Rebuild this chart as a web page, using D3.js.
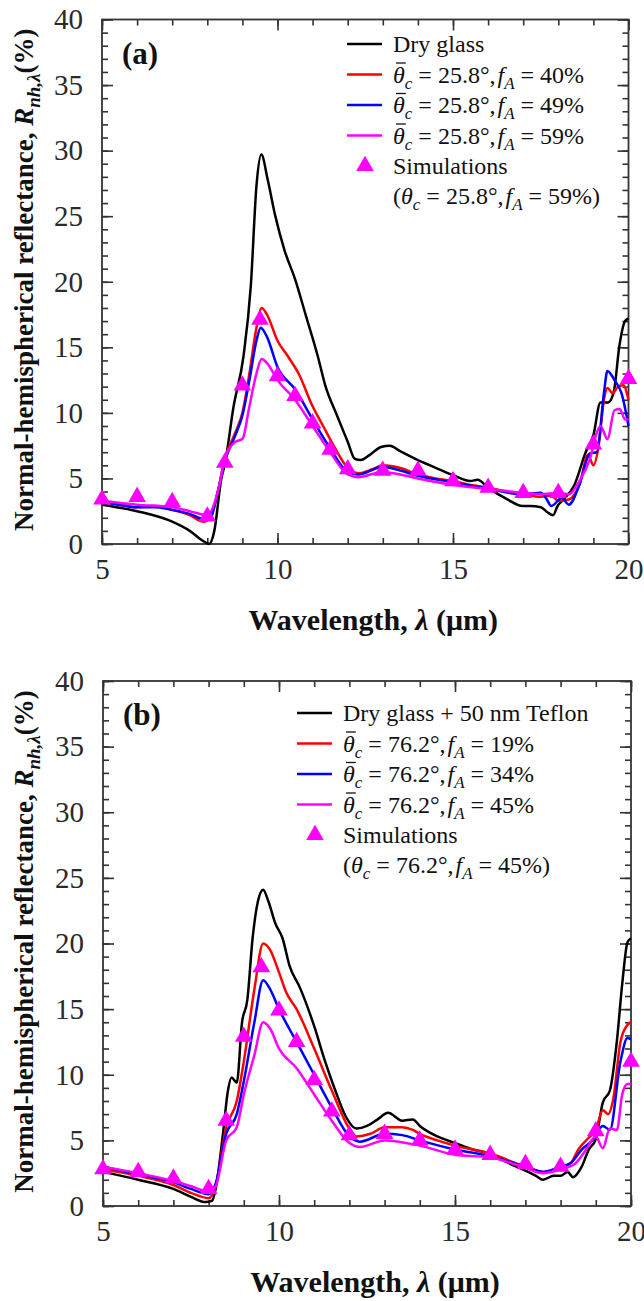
<!DOCTYPE html>
<html>
<head>
<meta charset="utf-8">
<script src="https://cdn.jsdelivr.net/npm/d3@7"></script>
<style>
  body { margin: 0; background: #fff; }
  svg { display: block; font-family: "Liberation Serif", "Times New Roman", serif; }
  svg text { font-family: "Liberation Serif", "Times New Roman", serif; }
</style>
</head>
<body>
<div id="chart"></div>
<script>
// ---- panel (a) data: wavelength (um), reflectance (%) ----
const dryA = [[5,3.0],[6,2.5],[7,1.7],[7.5,1.0],[7.9,0.2],[8.05,0.0],[8.2,1.0],[8.4,5.0],[8.5,6.1],[8.75,10.5],[9.03,14.3],[9.24,19.7],[9.4,27.3],[9.54,29.7],[9.72,27.8],[9.93,25.1],[10.2,22.4],[10.5,20.2],[10.8,17.5],[11.15,14.3],[11.36,12.1],[11.68,9.9],[12.0,7.8],[12.2,6.5],[12.37,6.4],[12.63,6.8],[12.95,7.4],[13.2,7.5],[13.48,7.1],[14.0,6.4],[14.43,5.9],[14.96,5.3],[15.5,4.8],[15.7,4.9],[16.0,4.3],[16.55,3.4],[16.98,2.9],[17.2,2.9],[17.5,2.8],[17.7,2.4],[17.85,2.2],[17.98,2.9],[18.15,3.4],[18.46,4.5],[18.78,7.0],[19.0,8.3],[19.2,10.8],[19.42,10.8],[19.58,11.6],[19.74,15.1],[19.9,17.0],[20,17.2]];
const redA = [[5,3.2],[5.5,3.0],[6,2.8],[6.5,2.9],[7,2.6],[7.5,2.2],[7.9,1.7],[8.1,2.0],[8.3,4.0],[8.5,6.5],[8.8,8.5],[9.0,10.0],[9.2,13.0],[9.4,16.5],[9.55,18.0],[9.7,17.5],[10.0,15.5],[10.3,14.3],[10.6,13.0],[11.0,10.5],[11.3,9.0],[11.6,7.5],[12.0,5.8],[12.3,5.4],[12.7,5.7],[13.0,6.0],[13.5,5.8],[14.0,5.3],[14.5,5.0],[15.0,4.8],[15.5,4.5],[16.0,4.3],[16.5,4.0],[17.0,3.8],[17.5,3.6],[17.8,3.7],[18.0,3.3],[18.3,3.4],[18.6,4.5],[18.85,6.8],[19.0,6.0],[19.15,7.5],[19.3,11.0],[19.4,11.9],[19.55,11.5],[19.7,12.0],[19.85,12.1],[20,11.0]];
const blueA = [[5,3.2],[5.5,3.0],[6,2.8],[6.5,2.8],[7,2.6],[7.5,2.3],[7.9,1.9],[8.1,2.1],[8.3,4.0],[8.5,6.3],[8.8,8.3],[9.0,9.8],[9.2,12.5],[9.4,15.5],[9.52,16.5],[9.7,15.8],[10.0,13.5],[10.5,11.8],[11.0,9.5],[11.5,7.3],[12.0,5.5],[12.3,5.3],[13.0,5.9],[13.5,5.6],[14.0,5.2],[15.0,4.7],[16.0,4.2],[17.0,3.8],[17.5,3.9],[17.65,3.5],[17.8,2.9],[18.1,3.5],[18.3,3.0],[18.6,4.5],[18.9,6.9],[19.1,7.0],[19.3,11.5],[19.4,13.2],[19.6,12.5],[19.8,11.5],[20,9.0]];
const magA = [[5,3.3],[6,3.0],[7,2.8],[7.5,2.5],[8.0,2.2],[8.3,4.0],[8.5,6.5],[8.8,7.8],[9.0,8.0],[9.2,10.5],[9.4,13.0],[9.55,14.1],[9.7,13.8],[10.0,12.5],[10.5,11.0],[11.0,9.0],[11.5,7.0],[12.0,5.3],[12.3,5.1],[13.0,5.5],[13.5,5.3],[14.0,5.0],[15.0,4.5],[16.0,4.2],[17.0,3.9],[17.5,3.8],[18.0,3.9],[18.3,3.8],[18.6,4.8],[18.9,6.5],[19.1,8.5],[19.2,9.0],[19.4,8.0],[19.6,10.2],[19.75,10.3],[19.9,9.5],[20,9.5]];
const simA = [[5,3.4],[6,3.6],[7,3.2],[8,2.1],[8.5,6.2],[9,12.1],[9.5,17.1],[10,12.8],[10.5,11.3],[11,9.2],[11.5,7.2],[12,5.7],[13,5.6],[14,5.6],[15,4.8],[16,4.3],[17,3.9],[18,3.9],[19,7.6],[20,12.6]];

// ---- panel (b) data ----
const dryB = [[5,2.6],[6,2.0],[7,1.3],[7.5,0.7],[7.9,0.3],[8.1,0.4],[8.2,1.3],[8.4,5.3],[8.55,8.8],[8.65,9.8],[8.8,9.4],[8.95,14.0],[9.1,15.7],[9.25,20.4],[9.4,23.2],[9.55,24.1],[9.7,23.2],[9.9,21.5],[10.1,20.4],[10.3,18.3],[10.6,16.6],[11.0,13.7],[11.3,11.1],[11.6,8.8],[11.9,6.8],[12.2,5.9],[12.5,6.1],[12.8,6.6],[13.1,7.1],[13.5,6.5],[13.8,6.6],[14.0,6.1],[14.5,5.3],[15.0,4.8],[15.5,4.3],[16.0,4.0],[16.5,3.3],[17.0,2.7],[17.3,2.3],[17.5,2.0],[17.8,2.3],[18.0,2.3],[18.2,2.6],[18.35,2.2],[18.6,3.0],[18.8,4.3],[19.0,5.1],[19.2,7.9],[19.4,8.8],[19.6,12.6],[19.75,16.9],[19.9,20.1],[20,20.4]];
const redB = [[5,2.8],[6,2.3],[7,1.6],[7.5,1.0],[8.0,0.6],[8.2,1.5],[8.5,6.0],[8.8,8.0],[9.0,11.0],[9.3,16.5],[9.55,20.0],[9.75,19.5],[10.0,17.8],[10.2,16.3],[10.5,15.0],[11.0,12.0],[11.5,8.8],[12.0,5.9],[12.2,5.3],[12.6,5.5],[13.0,6.0],[13.5,6.0],[13.8,5.8],[14.0,5.5],[14.5,5.0],[15.0,4.6],[15.5,4.3],[16.0,4.0],[16.5,3.5],[17.0,3.0],[17.5,2.6],[18.0,2.9],[18.3,3.3],[18.5,4.3],[18.8,5.2],[19.0,5.8],[19.2,7.3],[19.35,7.0],[19.5,8.2],[19.7,12.5],[19.9,13.8],[20,14.0]];
const blueB = [[5,3.0],[6,2.4],[7,1.8],[7.5,1.3],[8.0,0.9],[8.2,1.7],[8.5,5.5],[8.8,7.0],[9.0,9.5],[9.3,14.0],[9.55,17.2],[9.75,16.5],[10.0,15.0],[10.5,12.5],[11.0,10.0],[11.5,7.5],[12.0,5.3],[12.3,4.9],[13.0,5.5],[13.5,5.4],[14.0,5.0],[15.0,4.3],[16.0,3.8],[17.0,3.0],[17.5,2.6],[18.0,3.0],[18.3,3.3],[18.6,4.3],[18.9,5.0],[19.2,6.1],[19.4,5.8],[19.7,11.0],[19.9,12.8],[20,12.7]];
const magB = [[5,3.0],[6,2.5],[7,1.9],[7.5,1.5],[8.0,1.1],[8.2,1.5],[8.5,5.0],[8.8,6.0],[9.0,8.5],[9.3,11.5],[9.55,14.0],[9.75,13.5],[10.0,12.0],[10.5,10.5],[11.0,8.5],[11.5,6.5],[12.0,4.8],[12.3,4.5],[13.0,5.0],[14.0,4.6],[15.0,3.9],[16.0,3.7],[17.0,2.9],[17.5,2.5],[18.0,2.8],[18.4,3.2],[18.7,4.2],[19.0,5.3],[19.2,4.4],[19.4,5.9],[19.6,5.8],[19.75,8.5],[19.9,9.3],[20,9.3]];
const simB = [[5,2.8],[6,2.6],[7,2.1],[8,1.3],[8.5,6.5],[9,12.9],[9.5,18.2],[10,14.9],[10.5,12.5],[11,9.6],[11.5,7.2],[12,5.4],[13,5.5],[14,5.0],[15,4.3],[16,3.9],[17,3.2],[18,3.0],[19,5.7],[20,11.0]];

// ---- ticks and legend text ----
const xMajor = [5, 10, 15, 20];
const xMinor = d3.range(5, 21, 1);
const yMajor = [0, 5, 10, 15, 20, 25, 30, 35, 40];
const yMinor = d3.range(0, 41, 1);
const seriesColors = ["#000000", "#ff0000", "#0000ff", "#ff00ff"];
const legendA = ["Dry glass", ["25.8", "40"], ["25.8", "49"], ["25.8", "59"]];
const legendB = ["Dry glass + 50 nm Teflon", ["76.2", "19"], ["76.2", "34"], ["76.2", "45"]];
const simNoteA = ["25.8", "59"];
const simNoteB = ["76.2", "45"];

const W = 644, H = 1301;
const svg = d3.select("#chart").append("svg").attr("width", W).attr("height", H);

// writes "θc = 25.8°, fA = 40%" with sub/italics; bar -> overline on theta
const thetaText = (g, x, y, angle, pct, bar, paren) => {
  const t = g.append("text").attr("x", x).attr("y", y).attr("font-size", 24).attr("fill", "#111");
  if (paren) t.append("tspan").text("(");
  t.append("tspan").attr("font-style", "italic").text("θ");
  t.append("tspan").attr("font-style", "italic").attr("font-size", 17).attr("dy", 6).text("c");
  t.append("tspan").attr("dy", -6).text(` = ${angle}°,`);
  t.append("tspan").attr("font-style", "italic").attr("dx", 2).text("f");
  t.append("tspan").attr("font-style", "italic").attr("font-size", 17).attr("dy", 6).text("A");
  t.append("tspan").attr("dy", -6).text(` = ${pct}%` + (paren ? ")" : ""));
  if (bar) {
    const r = t.node().getExtentOfChar(0);
    g.append("line")
      .attr("x1", r.x + 3).attr("x2", r.x + r.width + 1)
      .attr("y1", r.y + 1.5).attr("y2", r.y + 1.5)
      .attr("stroke", "#111").attr("stroke-width", 1.3);
  }
};

const drawPanel = (cfg) => {
  const x = d3.scaleLinear().domain([5, 20]).range([cfg.left, cfg.right]);
  const y = d3.scaleLinear().domain([0, 40]).range([cfg.bottom, cfg.top]);
  const g = svg.append("g");
  const axisCol = "#333";

  // axes: inward ticks on all four sides
  const addAxis = (axis, transform, labels) => {
    const a = g.append("g").attr("transform", transform).call(axis);
    a.select(".domain").remove();
    a.selectAll("line").attr("stroke", axisCol).attr("stroke-width", 1.6);
    if (!labels) a.selectAll("text").remove();
    else a.selectAll("text").attr("font-size", 29).attr("fill", "#2a2a2a");
    return a;
  };
  addAxis(d3.axisBottom(x).tickValues(xMinor).tickSize(-6).tickFormat(""), `translate(0,${cfg.bottom})`, false);
  addAxis(d3.axisBottom(x).tickValues(xMajor).tickSize(-11).tickPadding(14), `translate(0,${cfg.bottom})`, true);
  addAxis(d3.axisTop(x).tickValues(xMinor).tickSize(-6).tickFormat(""), `translate(0,${cfg.top})`, false);
  addAxis(d3.axisTop(x).tickValues(xMajor).tickSize(-11).tickFormat(""), `translate(0,${cfg.top})`, false);
  addAxis(d3.axisLeft(y).tickValues(yMinor).tickSize(-6).tickFormat(""), `translate(${cfg.left},0)`, false);
  addAxis(d3.axisLeft(y).tickValues(yMajor).tickSize(-11).tickPadding(19), `translate(${cfg.left},0)`, true);
  addAxis(d3.axisRight(y).tickValues(yMinor).tickSize(-6).tickFormat(""), `translate(${cfg.right},0)`, false);
  addAxis(d3.axisRight(y).tickValues(yMajor).tickSize(-11).tickFormat(""), `translate(${cfg.right},0)`, false);

  g.append("rect")
    .attr("x", cfg.left).attr("y", cfg.top)
    .attr("width", cfg.right - cfg.left).attr("height", cfg.bottom - cfg.top)
    .attr("fill", "none").attr("stroke", axisCol).attr("stroke-width", 1.8);

  const line = d3.line().x((d) => x(d[0])).y((d) => y(d[1])).curve(d3.curveMonotoneX);
  cfg.series.forEach((s, i) => {
    g.append("path").attr("d", line(s))
      .attr("fill", "none").attr("stroke", seriesColors[i])
      .attr("stroke-width", 2.5).attr("stroke-linejoin", "round");
  });

  const tri = d3.symbol(d3.symbolTriangle, 135);
  g.selectAll(".sim").data(cfg.sim).enter().append("path")
    .attr("class", "sim")
    .attr("d", tri)
    .attr("transform", (d) => `translate(${x(d[0])},${y(d[1])})`)
    .attr("fill", "#ff00ff");

  // panel tag
  g.append("text").attr("x", cfg.left + 20).attr("y", cfg.top + 44)
    .attr("font-size", 31).attr("font-weight", "bold").attr("fill", "#111").text(cfg.tag);

  // legend
  const lg = g.append("g");
  cfg.legend.forEach((item, i) => {
    const ly = cfg.legY + i * 30.5;
    lg.append("line").attr("x1", cfg.legX).attr("x2", cfg.legX + 35)
      .attr("y1", ly).attr("y2", ly)
      .attr("stroke", seriesColors[i]).attr("stroke-width", 2.6);
    if (typeof item === "string") {
      lg.append("text").attr("x", cfg.legX + 46).attr("y", ly + 8)
        .attr("font-size", 24).attr("fill", "#111").text(item);
    } else {
      thetaText(lg, cfg.legX + 46, ly + 8, item[0], item[1], true, false);
    }
  });
  const sy = cfg.legY + 4 * 30.5;
  lg.append("path").attr("d", tri)
    .attr("transform", `translate(${cfg.legX + 18},${sy})`).attr("fill", "#ff00ff");
  lg.append("text").attr("x", cfg.legX + 46).attr("y", sy + 8)
    .attr("font-size", 24).attr("fill", "#111").text("Simulations");
  thetaText(lg, cfg.legX + 46, sy + 38, cfg.note[0], cfg.note[1], false, true);

  // axis titles
  const xt = g.append("text").attr("x", (cfg.left + cfg.right) / 2 + 8).attr("y", cfg.bottom + 86)
    .attr("text-anchor", "middle").attr("font-size", 30).attr("font-weight", "bold").attr("fill", "#111");
  xt.append("tspan").text("Wavelength, ");
  xt.append("tspan").attr("font-style", "italic").text("λ");
  xt.append("tspan").text(" (μm)");

  const yt = g.append("text")
    .attr("transform", `translate(33,${(cfg.top + cfg.bottom) / 2 - 2})rotate(-90)`)
    .attr("text-anchor", "middle").attr("font-size", 27).attr("font-weight", "bold").attr("fill", "#111");
  yt.append("tspan").text("Normal-hemispherical reflectance, ");
  yt.append("tspan").attr("font-style", "italic").text("R");
  yt.append("tspan").attr("font-style", "italic").attr("font-size", 19).attr("dy", 7).text("nh,λ");
  yt.append("tspan").attr("dy", -7).text("(%)");
};

drawPanel({
  left: 102, right: 628.5, top: 19.5, bottom: 544,
  series: [dryA, redA, blueA, magA], sim: simA,
  tag: "(a)", legend: legendA, note: simNoteA, legX: 347, legY: 44,
});
drawPanel({
  left: 103, right: 631, top: 681, bottom: 1206,
  series: [dryB, redB, blueB, magB], sim: simB,
  tag: "(b)", legend: legendB, note: simNoteB, legX: 297, legY: 713,
});
</script>
</body>
</html>
